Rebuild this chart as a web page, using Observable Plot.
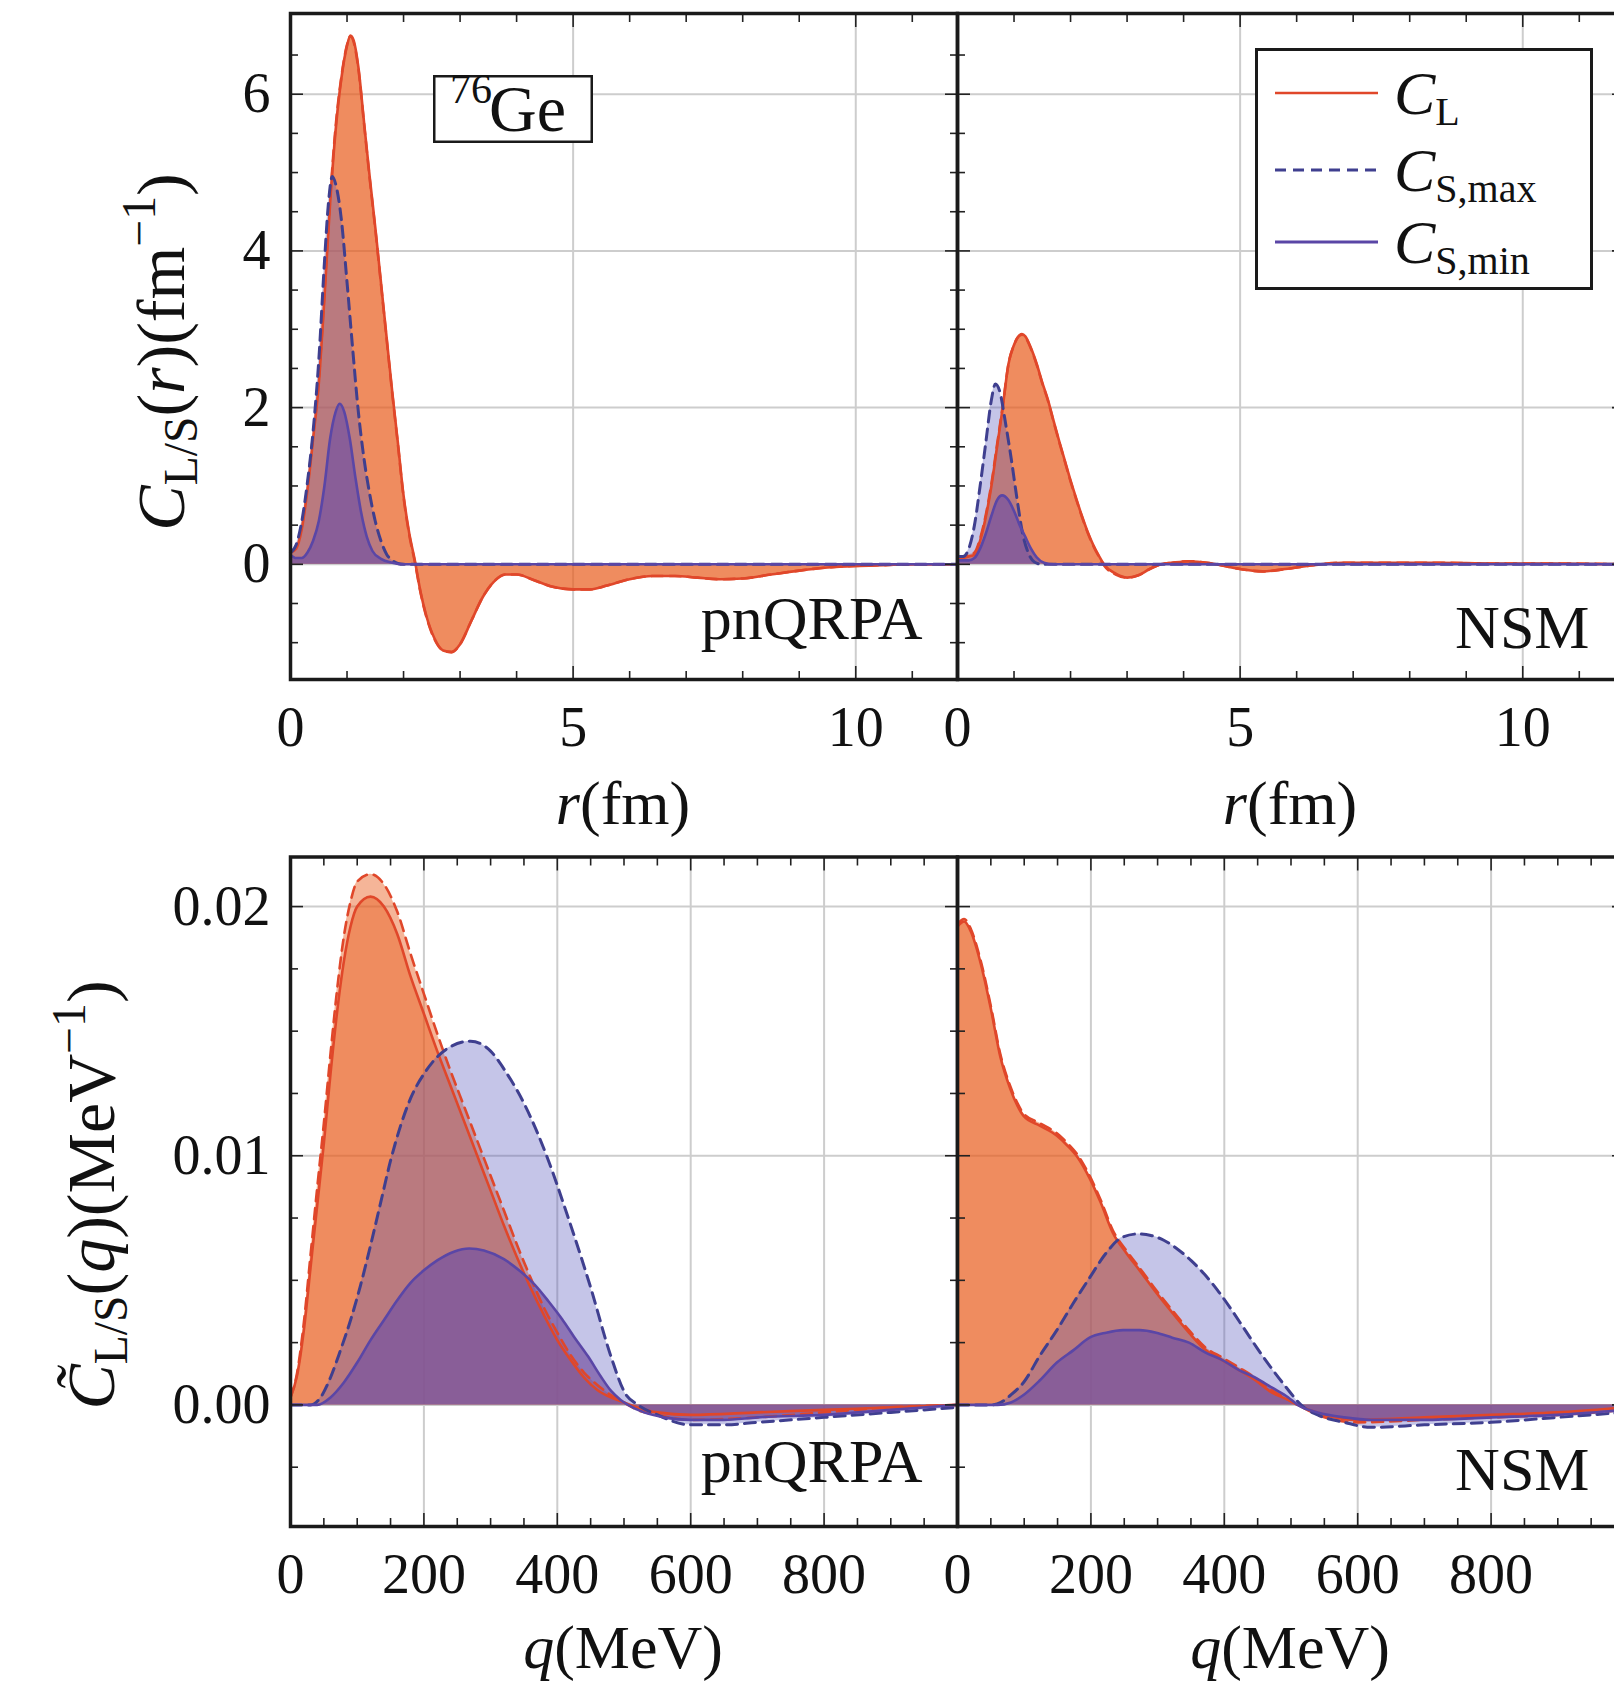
<!DOCTYPE html>
<html>
<head>
<meta charset="utf-8">
<script src="https://cdn.jsdelivr.net/npm/d3@7"></script>
<script src="https://cdn.jsdelivr.net/npm/@observablehq/plot@0.6"></script>
<style>
  html, body { margin: 0; padding: 0; overflow: hidden; background: #fff; }
  #root { position: relative; width: 1614px; height: 1685px; overflow: hidden; background: #fff;
          font-family: "Liberation Serif", "DejaVu Serif", serif; color: #111; }
  .pnl { position: absolute; }
  .lbl { position: absolute; white-space: nowrap; font-size: 62px; line-height: 1; }
  .lbl.big { font-size: 68px; }
  .lbl sub { font-size: 0.7em; vertical-align: -0.28em; line-height: 0; font-style: normal; }
  .lbl sup { font-size: 0.7em; vertical-align: 0.6em; line-height: 0; }
  .rot { transform: translate(-50%, -50%) rotate(-90deg); }
  .hc { transform: translateX(-50%); }
</style>
</head>
<body>
<div id="root"></div>
<script>
// ---------------- DATA ----------------
// Top row: C_{L/S}(r) in fm^-1, r in fm   (pairs are [r, value])
const pn_r_CL = [[0,0.15],[0.1,0.2],[0.2,0.45],[0.3,0.95],[0.4,1.6],[0.5,2.3],[0.6,3.4],[0.7,4.6],[0.8,5.55],[0.9,6.2],[1.0,6.62],[1.06,6.75],[1.12,6.68],[1.2,6.35],[1.3,5.65],[1.4,4.95],[1.5,4.3],[1.6,3.6],[1.7,2.9],[1.8,2.2],[1.9,1.55],[2.0,0.88],[2.1,0.4],[2.2,0.05],[2.3,-0.35],[2.4,-0.65],[2.55,-0.95],[2.7,-1.1],[2.85,-1.12],[3.0,-1.02],[3.2,-0.72],[3.4,-0.42],[3.6,-0.22],[3.8,-0.13],[4.0,-0.13],[4.3,-0.2],[4.6,-0.28],[5.0,-0.32],[5.3,-0.32],[5.6,-0.27],[6.0,-0.19],[6.4,-0.15],[6.8,-0.15],[7.2,-0.17],[7.6,-0.19],[8.0,-0.18],[8.5,-0.13],[9.0,-0.08],[9.5,-0.04],[10.0,-0.02],[10.5,-0.01],[11.0,0],[11.8,0]];
const pn_r_CLd = [[0,0.15],[0.1,0.22],[0.2,0.5],[0.3,1.0],[0.4,1.65],[0.5,2.35],[0.6,3.45],[0.7,4.65],[0.8,5.6],[0.9,6.22],[1.0,6.63],[1.06,6.74],[1.12,6.66],[1.2,6.33],[1.3,5.63],[1.4,4.93],[1.5,4.28],[1.6,3.58],[1.7,2.88],[1.8,2.18],[1.9,1.53],[2.0,0.86],[2.1,0.38],[2.2,0.03],[2.3,-0.36],[2.4,-0.66],[2.55,-0.96],[2.7,-1.1],[2.85,-1.12],[3.0,-1.02],[3.2,-0.72],[3.4,-0.42],[3.6,-0.22],[3.8,-0.13],[4.0,-0.13],[4.3,-0.2],[4.6,-0.28],[5.0,-0.32],[5.3,-0.32],[5.6,-0.27],[6.0,-0.19],[6.4,-0.15],[6.8,-0.15],[7.2,-0.17],[7.6,-0.19],[8.0,-0.18],[8.5,-0.13],[9.0,-0.08],[9.5,-0.04],[10.0,-0.02],[10.5,-0.01],[11.0,0],[11.8,0]];
const pn_r_Smax = [[0,0.15],[0.1,0.25],[0.2,0.55],[0.3,1.05],[0.4,1.7],[0.5,2.6],[0.6,3.85],[0.67,4.6],[0.74,4.95],[0.8,4.85],[0.9,4.4],[1.0,3.6],[1.1,2.75],[1.2,1.95],[1.3,1.35],[1.4,0.9],[1.5,0.55],[1.6,0.3],[1.7,0.13],[1.8,0.05],[1.9,0.01],[2.0,0],[3.0,0],[5.0,0],[8.0,0],[11.8,0]];
const pn_r_Smin = [[0,0.12],[0.1,0.08],[0.2,0.08],[0.3,0.15],[0.4,0.3],[0.5,0.55],[0.6,1.0],[0.7,1.6],[0.8,1.95],[0.87,2.05],[0.95,1.95],[1.05,1.6],[1.15,1.1],[1.25,0.66],[1.35,0.35],[1.45,0.17],[1.6,0.07],[1.8,0.02],[2.0,0],[3.0,0],[5.0,0],[8.0,0],[11.8,0]];

const nsm_r_CL = [[0,0.05],[0.1,0.08],[0.2,0.1],[0.3,0.12],[0.4,0.3],[0.5,0.6],[0.6,1.0],[0.7,1.5],[0.8,2.0],[0.9,2.55],[1.0,2.8],[1.14,2.94],[1.2,2.91],[1.3,2.76],[1.4,2.56],[1.5,2.32],[1.6,2.1],[1.7,1.83],[1.8,1.57],[1.9,1.32],[2.0,1.07],[2.1,0.84],[2.2,0.62],[2.3,0.42],[2.4,0.25],[2.5,0.11],[2.6,-0.01],[2.8,-0.12],[3.0,-0.17],[3.2,-0.14],[3.4,-0.06],[3.6,0],[3.8,0.02],[4.1,0.04],[4.5,0.01],[5.0,-0.06],[5.4,-0.09],[5.8,-0.06],[6.3,-0.01],[6.8,0.02],[7.5,0.02],[8.5,0.02],[9.5,0.01],[10.5,0.01],[11.8,0]];
const nsm_r_CLd = [[0,0.05],[0.1,0.09],[0.2,0.12],[0.3,0.15],[0.4,0.33],[0.5,0.63],[0.6,1.03],[0.7,1.53],[0.8,2.02],[0.9,2.55],[1.0,2.8],[1.14,2.93],[1.2,2.9],[1.3,2.75],[1.4,2.55],[1.5,2.31],[1.6,2.09],[1.7,1.82],[1.8,1.56],[1.9,1.31],[2.0,1.06],[2.1,0.83],[2.2,0.61],[2.3,0.41],[2.4,0.24],[2.5,0.1],[2.6,-0.02],[2.8,-0.13],[3.0,-0.17],[3.2,-0.14],[3.4,-0.06],[3.6,0],[3.8,0.02],[4.1,0.04],[4.5,0.01],[5.0,-0.06],[5.4,-0.09],[5.8,-0.06],[6.3,-0.01],[6.8,0.02],[7.5,0.02],[8.5,0.02],[9.5,0.01],[10.5,0.01],[11.8,0]];
const nsm_r_Smax = [[0,0.1],[0.1,0.1],[0.2,0.2],[0.3,0.5],[0.4,1.0],[0.5,1.55],[0.6,2.1],[0.67,2.3],[0.75,2.2],[0.85,1.8],[0.95,1.35],[1.05,0.85],[1.15,0.4],[1.25,0.15],[1.36,0.03],[1.5,0],[3.0,0],[6.0,0],[11.8,0]];
const nsm_r_Smin = [[0,0.05],[0.2,0.05],[0.3,0.08],[0.4,0.2],[0.5,0.39],[0.6,0.62],[0.7,0.82],[0.79,0.88],[0.9,0.82],[1.0,0.68],[1.1,0.5],[1.2,0.35],[1.3,0.2],[1.4,0.09],[1.53,0.02],[1.7,0],[3.0,0],[6.0,0],[11.8,0]];

// Bottom row: C~_{L/S}(q) in MeV^-1, q in MeV   (pairs are [q, value])
const pn_q_CL = [[0,0.0003],[10,0.0012],[20,0.003],[30,0.0055],[40,0.008],[50,0.0105],[60,0.0133],[70,0.0158],[80,0.0178],[90,0.0192],[100,0.02],[120,0.0204],[140,0.02],[160,0.0189],[180,0.0172],[200,0.0157],[220,0.0142],[240,0.0128],[260,0.0114],[280,0.01],[300,0.0086],[320,0.0072],[340,0.0059],[360,0.0047],[380,0.0036],[400,0.0026],[420,0.0018],[440,0.0011],[460,0.0006],[480,0.0003],[500,0.0001],[520,-0.0001],[550,-0.0003],[600,-0.0004],[700,-0.0003],[800,-0.0002],[900,-0.0001],[1000,0]];
const pn_q_CLd = [[0,0.0003],[10,0.0013],[20,0.0033],[30,0.006],[40,0.0087],[50,0.0113],[60,0.0141],[70,0.0167],[80,0.0188],[90,0.0202],[100,0.021],[120,0.0213],[140,0.0209],[160,0.0198],[180,0.0181],[200,0.0165],[220,0.0149],[240,0.0134],[260,0.012],[280,0.0106],[300,0.0092],[320,0.0078],[340,0.0064],[360,0.0051],[380,0.0039],[400,0.0029],[420,0.002],[440,0.0013],[460,0.0008],[480,0.0004],[500,0.0001],[520,-0.0002],[550,-0.0004],[600,-0.0006],[700,-0.0005],[800,-0.0003],[900,-0.0001],[1000,0]];
const pn_q_Smax = [[0,0],[30,0],[45,0.0003],[60,0.0011],[75,0.0022],[90,0.0034],[105,0.0048],[120,0.0064],[135,0.0081],[150,0.0098],[165,0.0112],[180,0.0123],[203,0.0134],[235,0.0143],[270,0.0146],[300,0.0142],[322,0.0134],[352,0.012],[384,0.01],[414,0.0077],[449,0.0048],[481,0.0019],[501,0.0005],[521,0],[550,-0.0004],[600,-0.0008],[650,-0.0008],[700,-0.0007],[800,-0.0005],[900,-0.0003],[1000,-0.0001]];
const pn_q_Smin = [[0,0],[40,0],[60,0.0003],[80,0.0009],[100,0.0017],[120,0.0026],[140,0.0034],[160,0.0042],[180,0.0049],[200,0.0054],[220,0.0058],[245,0.00615],[268,0.00628],[290,0.0062],[320,0.00585],[345,0.00535],[367,0.0048],[387,0.00415],[407,0.00345],[426,0.0027],[446,0.00195],[465,0.00115],[481,0.00055],[495,0.0002],[506,0],[530,-0.0003],[560,-0.0005],[600,-0.0006],[650,-0.0006],[700,-0.0005],[800,-0.0004],[900,-0.0002],[1000,0]];

const nsm_q_CL = [[0,0.0192],[10,0.0194],[20,0.019],[35,0.0177],[50,0.0159],[64,0.014],[79,0.0127],[90,0.012],[99,0.0116],[124,0.0112],[149,0.0108],[165,0.0104],[181,0.0099],[198,0.0091],[215,0.0081],[233,0.0069],[253,0.0061],[273,0.0054],[298,0.0045],[322,0.0037],[347,0.0029],[372,0.0022],[397,0.0018],[422,0.0014],[446,0.001],[471,0.0005],[496,0.0002],[510,0],[550,-0.0004],[600,-0.0006],[700,-0.0005],[800,-0.0004],[900,-0.0003],[1000,-0.0001]];
const nsm_q_CLd = [[0,0.0193],[10,0.0195],[20,0.0191],[35,0.0178],[50,0.016],[64,0.0141],[79,0.0128],[90,0.0121],[99,0.0117],[124,0.0113],[149,0.0109],[165,0.0105],[181,0.01],[198,0.0092],[215,0.0082],[233,0.007],[253,0.0062],[273,0.0055],[298,0.0046],[322,0.0038],[347,0.003],[372,0.0023],[397,0.0019],[422,0.0015],[446,0.0011],[471,0.0006],[496,0.0002],[510,0],[550,-0.0005],[600,-0.0007],[700,-0.0006],[800,-0.0005],[900,-0.0004],[1000,-0.0002]];
const nsm_q_Smax = [[0,0],[50,0],[65,0.0001],[80,0.0004],[99,0.0009],[124,0.002],[149,0.003],[174,0.0041],[198,0.0051],[223,0.0061],[245,0.0067],[270,0.00686],[290,0.0068],[310,0.0066],[330,0.00625],[350,0.0058],[370,0.00525],[390,0.0046],[410,0.00385],[430,0.00305],[450,0.00225],[470,0.0015],[490,0.0008],[505,0.0003],[515,0],[540,-0.0004],[580,-0.0007],[620,-0.0009],[700,-0.0008],[800,-0.0007],[900,-0.0005],[1000,-0.0003]];
const nsm_q_Smin = [[0,0],[60,0],[80,0.0001],[99,0.0004],[124,0.001],[149,0.0017],[174,0.0022],[198,0.0027],[223,0.0029],[248,0.003],[273,0.003],[298,0.0029],[322,0.0027],[347,0.0025],[372,0.0021],[397,0.0018],[422,0.0014],[446,0.0011],[471,0.0007],[496,0.0003],[510,0],[540,-0.0003],[580,-0.0005],[620,-0.0006],[700,-0.0006],[800,-0.0005],[900,-0.0004],[1000,-0.0002]];

// Axes
const rDomain = [0, 11.8];
const rYDomain = [-1.47, 7.03];
const rTicks = [0, 5, 10];
const rMinorTicks = [1, 2, 3, 4, 6, 7, 8, 9, 11];
const rYTicks = [0, 2, 4, 6];
const rYMinorTicks = [-1, -0.5, 0.5, 1, 1.5, 2.5, 3, 3.5, 4.5, 5, 5.5, 6.5];

const qDomain = [0, 1000];
const qYDomain = [-0.00488, 0.02199];
const qTicks = [0, 200, 400, 600, 800];
const qMinorTicks = [50, 100, 150, 250, 300, 350, 450, 500, 550, 650, 700, 750, 850, 900, 950];
const qYTicks = [0, 0.01, 0.02];
const qYMinorTicks = [-0.0025, 0.0025, 0.005, 0.0075, 0.0125, 0.015, 0.0175];

const methods = ["pnQRPA", "NSM"];

// ---------------- STYLE ----------------
const FONT = "'Liberation Serif', 'DejaVu Serif', serif";
const COL = {
  CL: "#e0472a", CLfill: "#e85b1a",
  Smax: "#3f3f8f", SmaxFill: "#5959bd",
  Smin: "#5a46a6", SminFill: "#7552a3",
  grid: "#cdcdcd", frame: "#1a1a1a"
};

function panel(cfg) {
  const X = d => d[0], Y = d => d[1];
  const curve = "monotone-x";
  const s = cfg.series;
  const tick = {stroke: "#222", strokeWidth: 1.6, fill: "none", label: null};
  const marks = [
    Plot.gridX(cfg.xMajor, {stroke: COL.grid, strokeOpacity: 1, strokeWidth: 2}),
    Plot.gridY(cfg.yMajor, {stroke: COL.grid, strokeOpacity: 1, strokeWidth: 2}),
    Plot.areaY(s.CLd, {x: X, y: Y, curve, fill: COL.CLfill, fillOpacity: 0.45}),
    Plot.areaY(s.CL, {x: X, y: Y, curve, fill: COL.CLfill, fillOpacity: 0.45}),
    Plot.areaY(s.Smax, {x: X, y: Y, curve, fill: COL.SmaxFill, fillOpacity: 0.35}),
    Plot.areaY(s.Smin, {x: X, y: Y, curve, fill: COL.SminFill, fillOpacity: 0.7}),
    Plot.lineY(s.CLd, {x: X, y: Y, curve, stroke: COL.CL, strokeWidth: 2.6, strokeDasharray: "11,7"}),
    Plot.lineY(s.CL, {x: X, y: Y, curve, stroke: COL.CL, strokeWidth: 2.6}),
    Plot.lineY(s.Smax, {x: X, y: Y, curve, stroke: COL.Smax, strokeWidth: 3, strokeDasharray: "11,7"}),
    Plot.lineY(s.Smin, {x: X, y: Y, curve, stroke: COL.Smin, strokeWidth: 2.6}),
    // inward ticks on all four sides
    Plot.axisX(cfg.xMinor, {anchor: "bottom", tickSize: -8, ...tick}),
    Plot.axisX(cfg.xMinor, {anchor: "top", tickSize: -8, ...tick}),
    Plot.axisX(cfg.xMajor, {anchor: "bottom", tickSize: -13, ...tick}),
    Plot.axisX(cfg.xMajor, {anchor: "top", tickSize: -13, ...tick}),
    Plot.axisY(cfg.yMinor, {anchor: "left", tickSize: -8, ...tick}),
    Plot.axisY(cfg.yMinor, {anchor: "right", tickSize: -8, ...tick}),
    Plot.axisY(cfg.yMajor, {anchor: "left", tickSize: -13, ...tick}),
    Plot.axisY(cfg.yMajor, {anchor: "right", tickSize: -13, ...tick}),
    // tick labels
    Plot.axisX(cfg.xMajor, {anchor: "bottom", tickSize: 0, tickPadding: 27, tickFormat: d3.format("d"),
      label: null, fontSize: 56, fontFamily: FONT, fill: "#111"}),
    cfg.yLabels ? Plot.axisY(cfg.yMajor, {anchor: "left", tickSize: 0, tickPadding: 20, tickFormat: cfg.yFmt,
      label: null, fontSize: 56, fontFamily: FONT, fill: "#111"}) : null,
    Plot.frame({stroke: COL.frame, strokeWidth: 3.5}),
    Plot.text([cfg.name], {text: d => d, frameAnchor: "bottom-right", textAnchor: "end", lineAnchor: "bottom",
      dx: cfg.nameDx, dy: cfg.nameDy, fontSize: 62, fontFamily: FONT, fill: "#111"})
  ];
  const svg = Plot.plot({
    width: cfg.width, height: cfg.height,
    marginLeft: cfg.ml, marginRight: cfg.mr, marginTop: cfg.mt, marginBottom: cfg.mb,
    x: {domain: cfg.xDom},
    y: {domain: cfg.yDom},
    style: {background: "transparent", fontFamily: FONT, fontSize: "56px", color: "#111", overflow: "visible"},
    marks
  });
  svg.classList.add("pnl");
  svg.style.left = cfg.left + "px";
  svg.style.top = cfg.top + "px";
  return svg;
}

const root = document.getElementById("root");
const topCommon = {top: 0, height: 769, mt: 13, mb: 90, xDom: rDomain, yDom: rYDomain,
  xMajor: rTicks, xMinor: rMinorTicks, yMajor: rYTicks, yMinor: rYMinorTicks, yFmt: d3.format("d")};
const botCommon = {top: 800, height: 821, mt: 56.5, mb: 95, xDom: qDomain, yDom: qYDomain,
  xMajor: qTicks, xMinor: qMinorTicks, yMajor: qYTicks, yMinor: qYMinorTicks, yFmt: d3.format(".2f")};
const leftCol = {left: 0, width: 960, ml: 290, mr: 3, yLabels: true};
const rightCol = {left: 954, width: 680, ml: 3, mr: 10, yLabels: false};

root.appendChild(panel({...topCommon, ...leftCol, name: methods[0], nameDx: -35, nameDy: -41,
  series: {CL: pn_r_CL, CLd: pn_r_CLd, Smax: pn_r_Smax, Smin: pn_r_Smin}}));
root.appendChild(panel({...topCommon, ...rightCol, name: methods[1], nameDx: -35, nameDy: -32,
  series: {CL: nsm_r_CL, CLd: nsm_r_CLd, Smax: nsm_r_Smax, Smin: nsm_r_Smin}}));
root.appendChild(panel({...botCommon, ...leftCol, name: methods[0], nameDx: -35, nameDy: -45,
  series: {CL: pn_q_CL, CLd: pn_q_CLd, Smax: pn_q_Smax, Smin: pn_q_Smin}}));
root.appendChild(panel({...botCommon, ...rightCol, name: methods[1], nameDx: -35, nameDy: -37,
  series: {CL: nsm_q_CL, CLd: nsm_q_CLd, Smax: nsm_q_Smax, Smin: nsm_q_Smin}}));

// Axis titles (rich text)
function addLabel(html, css, cls) {
  const d = document.createElement("div");
  d.className = "lbl " + cls;
  d.innerHTML = html;
  Object.assign(d.style, css);
  root.appendChild(d);
}
const rLabel = "<i>r</i>(fm)";
const qLabel = "<i>q</i>(MeV)";
addLabel(rLabel, {left: "623px", top: "772px"}, "hc");
addLabel(rLabel, {left: "1290px", top: "772px"}, "hc");
addLabel(qLabel, {left: "623px", top: "1616px"}, "hc");
addLabel(qLabel, {left: "1290px", top: "1616px"}, "hc");
addLabel("<i>C</i><sub>L/S</sub>(<i>r</i>)(fm<sup>\u22121</sup>)", {left: "161px", top: "352px"}, "rot big");
addLabel("<i>C\u0303</i><sub>L/S</sub>(<i>q</i>)(MeV<sup>\u22121</sup>)", {left: "91px", top: "1195px"}, "rot big");

// Nucleus box and legend
const NS = "http://www.w3.org/2000/svg";
function svgEl(tag, attrs, parent) {
  const e = document.createElementNS(NS, tag);
  for (const k in attrs) e.setAttribute(k, attrs[k]);
  if (parent) parent.appendChild(e);
  return e;
}
const geBox = svgEl("svg", {width: 160, height: 68, style: "position:absolute;left:433px;top:75px;overflow:visible", "font-family": FONT});
svgEl("rect", {x: 1.25, y: 1.25, width: 157.5, height: 65.5, fill: "#fff", stroke: COL.frame, "stroke-width": 2.5}, geBox);
const t76 = svgEl("text", {x: 17, y: 28, "font-size": 42, fill: "#111"}, geBox); t76.textContent = "76";
const tGe = svgEl("text", {x: 56, y: 56, "font-size": 66, fill: "#111"}, geBox); tGe.textContent = "Ge";
root.appendChild(geBox);

const legendItems = [
  {sub: "L", stroke: COL.CL, dash: null, width: 2.6},
  {sub: "S,max", stroke: COL.Smax, dash: "11,7", width: 3},
  {sub: "S,min", stroke: COL.Smin, dash: null, width: 3}
];
const lg = svgEl("svg", {width: 338, height: 242, style: "position:absolute;left:1255px;top:48px;overflow:visible", "font-family": FONT});
svgEl("rect", {x: 1.5, y: 1.5, width: 335, height: 239, fill: "#fff", stroke: COL.frame, "stroke-width": 3}, lg);
const rowY = [45, 122, 194];
legendItems.forEach((it, i) => {
  const l = svgEl("line", {x1: 20, x2: 123, y1: rowY[i], y2: rowY[i], stroke: it.stroke, "stroke-width": it.width}, lg);
  if (it.dash) l.setAttribute("stroke-dasharray", it.dash);
  const t = svgEl("text", {x: 139, y: rowY[i] + 21, "font-size": 62, fill: "#111"}, lg);
  const c = svgEl("tspan", {"font-style": "italic"}, t); c.textContent = "C";
  const sb = svgEl("tspan", {"font-size": 40, dy: 11}, t); sb.textContent = it.sub;
});
root.appendChild(lg);
</script>
</body>
</html>
